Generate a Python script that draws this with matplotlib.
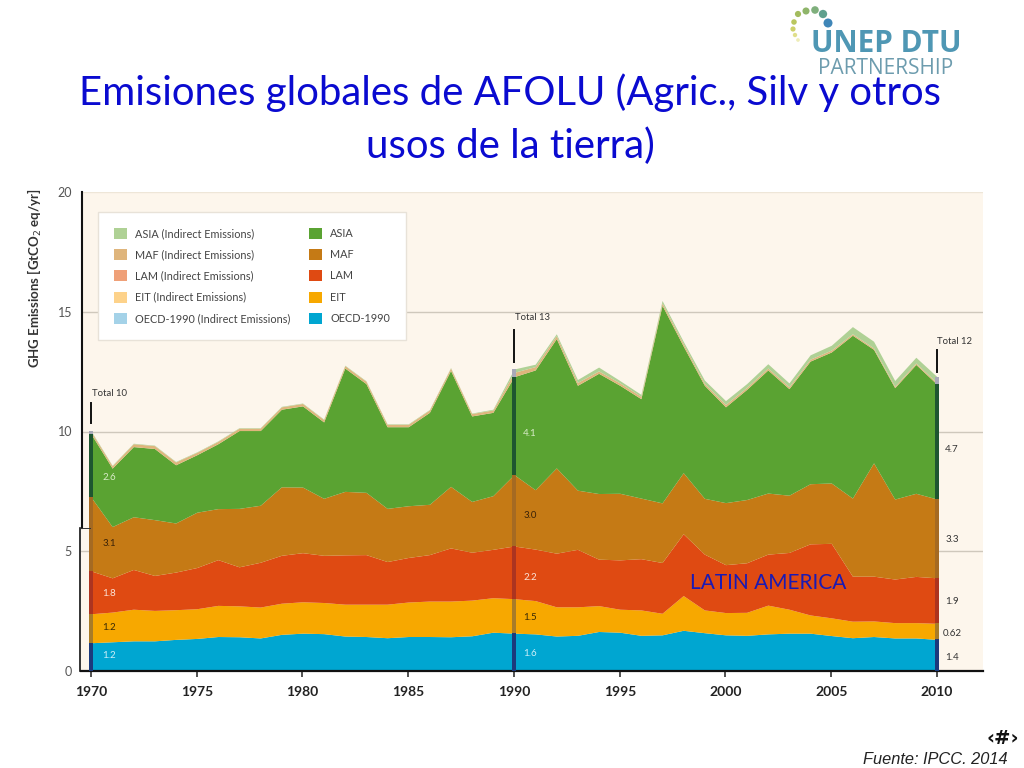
import numpy as np
import matplotlib
matplotlib.use("Agg")
import matplotlib.pyplot as plt
from matplotlib.patches import Patch

years = list(range(1970, 2011))
oecd_top = [1.18,1.22,1.26,1.26,1.32,1.36,1.44,1.43,1.38,1.53,1.58,1.56,1.46,1.44,1.39,1.44,1.44,1.43,1.47,1.62,1.58,
            1.55,1.46,1.49,1.65,1.62,1.49,1.51,1.70,1.60,1.51,1.49,1.55,1.58,1.58,1.48,1.39,1.44,1.38,1.38,1.32]
eit_top = [2.39,2.46,2.58,2.53,2.56,2.60,2.74,2.72,2.67,2.83,2.89,2.86,2.79,2.79,2.79,2.88,2.92,2.92,2.96,3.06,3.02,
           2.94,2.68,2.68,2.73,2.58,2.55,2.41,3.15,2.55,2.44,2.45,2.75,2.58,2.34,2.22,2.08,2.09,2.02,2.02,1.99]
lam_top = [4.18,3.89,4.24,3.99,4.13,4.32,4.65,4.35,4.54,4.83,4.94,4.83,4.85,4.86,4.57,4.74,4.86,5.14,4.96,5.08,5.22,
           5.09,4.92,5.08,4.67,4.64,4.69,4.53,5.73,4.88,4.44,4.52,4.88,4.95,5.31,5.33,3.96,3.96,3.84,3.95,3.89]
maf_top = [7.26,6.03,6.44,6.32,6.18,6.63,6.78,6.79,6.92,7.69,7.68,7.21,7.50,7.46,6.79,6.90,6.96,7.71,7.08,7.32,8.20,
           7.57,8.48,7.55,7.41,7.42,7.22,7.02,8.28,7.21,7.03,7.16,7.43,7.34,7.82,7.85,7.22,8.69,7.18,7.42,7.18]
asia_top = [9.90,8.47,9.37,9.29,8.61,9.03,9.49,10.04,10.04,10.93,11.07,10.40,12.65,12.00,10.20,10.20,10.80,12.55,10.65,10.80,12.29,
            12.57,13.88,11.93,12.43,11.93,11.37,15.27,13.57,11.93,11.03,11.76,12.57,11.79,12.94,13.32,14.02,13.43,11.83,12.80,11.97]
maf_indirect = [0.10,0.10,0.12,0.12,0.12,0.10,0.10,0.10,0.10,0.10,0.10,0.10,0.10,0.10,0.10,0.10,0.10,0.10,0.10,0.10,0.18,
                0.14,0.12,0.12,0.10,0.10,0.10,0.10,0.10,0.08,0.10,0.08,0.08,0.08,0.08,0.08,0.06,0.06,0.06,0.06,0.06]
asia_indirect = [0.03,0.02,0.02,0.02,0.02,0.02,0.02,0.02,0.02,0.02,0.02,0.02,0.02,0.02,0.02,0.02,0.02,0.02,0.02,0.03,0.14,
                 0.10,0.08,0.12,0.16,0.10,0.08,0.10,0.10,0.14,0.16,0.16,0.18,0.16,0.18,0.20,0.30,0.28,0.24,0.24,0.26]

series_names = ["OECD-1990", "EIT", "LAM", "MAF", "ASIA"]
direct_colors = ["#00A6D1", "#F7A800", "#DF4A12", "#C57A15", "#5AA332"]
indirect_colors = ["#A4D2E8", "#FDD28A", "#EFA078", "#DFB57C", "#AFD195"]
band_colors = ["#1C3A7C", "#A87C28", "#AC3420", "#A56A22", "#1E5630"]

mark_years = [1970, 1990, 2010]
totals = ["Total 10", "Total 13", "Total 12"]
total_line_px = [(403, 423), (330, 362), (350, 372)]
total_text_px = [(92, 394), (515, 317), (937, 342)]
value_labels = [
    [("2.6", 477, "#D8EBC8"), ("3.1", 544, "#3A2208"), ("1.8", 593, "#FBE4D8"), ("1.2", 627, "#3A2A05"), ("1.2", 656, "#CDEFF8")],
    [("4.1", 434, "#D8EBC8"), ("3.0", 516, "#3A2208"), ("2.2", 577, "#FBE4D8"), ("1.5", 618, "#3A2A05"), ("1.6", 654, "#CDEFF8")],
    [("4.7", 450, "#333333"), ("3.3", 540, "#333333"), ("1.9", 601, "#333333"), ("0.62", 633, "#333333"), ("1.4", 658, "#333333")],
]
value_label_x_px = [109, 530, 952]
y_ticks = [0, 5, 10, 15, 20]
x_ticks = [1970, 1975, 1980, 1985, 1990, 1995, 2000, 2005, 2010]

W, H = 1024, 768
fig = plt.figure(figsize=(W / 100, H / 100), dpi=100, facecolor="white")
L, R, T, B = 81, 983, 192, 671
ax = fig.add_axes([L / W, 1 - B / H, (R - L) / W, (B - T) / H], facecolor="#FDF6EC")
px = 21.15
ax.set_xlim(1970 + (L - 91) / px, 1970 + (R - 91) / px)
ax.set_ylim(0, 20)

for s in ["top", "right", "left"]:
    ax.spines[s].set_visible(False)
ax.spines["bottom"].set_linewidth(1.6)
ax.spines["bottom"].set_color("#111111")

for v in y_ticks[1:]:
    ax.axhline(v, color="#CFC8BC" if v < 20 else "#EEE6D8", lw=1.0, zorder=1)

x = np.array(years, dtype=float)
tops = [np.array(oecd_top), np.array(eit_top), np.array(lam_top), np.array(maf_top), np.array(asia_top)]
bottom = np.zeros(len(x))
for t, c in zip(tops, direct_colors):
    ax.fill_between(x, bottom, t, color=c, lw=0, zorder=2)
    bottom = t
maf_i_top = bottom + np.array(maf_indirect)
asia_i_top = maf_i_top + np.array(asia_indirect)
ax.fill_between(x, bottom, maf_i_top, color=indirect_colors[3], lw=0, zorder=2)
ax.fill_between(x, maf_i_top, asia_i_top, color=indirect_colors[4], lw=0, zorder=2)

bw = 4.5 / px
for my in mark_years:
    i = years.index(my)
    b = 0.0
    for t, c in zip(tops, band_colors):
        ax.bar(my, t[i] - b, bottom=b, width=bw, color=c, lw=0, zorder=3)
        b = t[i]
    ax.bar(my, asia_i_top[i] - b, bottom=b, width=bw, color="#A9A9B8", lw=0, zorder=3)

def yv(p):
    return (B - p) / (B - T) * 20

def xv(p):
    return 1970 + (p - 91) / px

for my, (p0, p1), (tx, ty), tot, labs, lx in zip(mark_years, total_line_px, total_text_px, totals, value_labels, value_label_x_px):
    ax.plot([my, my], [yv(p1), yv(p0)], color="#111111", lw=1.4, zorder=4)
    ax.text(xv(tx), yv(ty), tot, fontsize=6.8, color="#333333", ha="left",
            va="center", family="Lato", zorder=5)
    for txt, py, col in labs:
        ax.text(xv(lx), yv(py), txt, fontsize=7, color=col, ha="center", va="center", family="Lato", zorder=5)

ax.set_xticks(x_ticks)
ax.set_xticklabels([str(v) for v in x_ticks], fontsize=10, fontweight="bold", color="#222222", family="Lato")
ax.tick_params(axis="x", length=4, width=1.1, color="#222222", pad=7)
ax.set_yticks(y_ticks)
ax.set_yticklabels([str(v) for v in y_ticks], fontsize=9, color="#555555", family="Lato")
ax.tick_params(axis="y", length=0, pad=6.5)

# two-part left axis line, offset as in the source slide
ax.plot([xv(82.5), xv(82.5)], [yv(528), 20], color="#111111", lw=1.5, clip_on=False, zorder=6)
ax.plot([xv(80.5), xv(80.5)], [0, yv(528)], color="#111111", lw=1.2, clip_on=False, zorder=6)
ax.plot([xv(80.5), xv(90)], [yv(528), yv(528)], color="#333333", lw=0.7, clip_on=False, zorder=6)

handles = []
for name, ci in zip(series_names[::-1], indirect_colors[::-1]):
    handles.append(Patch(facecolor=ci, label=f"{name} (Indirect Emissions)"))
for name, cd in zip(series_names[::-1], direct_colors[::-1]):
    handles.append(Patch(facecolor=cd, label=name))
leg = ax.legend(handles=handles, ncol=2, loc="upper left",
                bbox_to_anchor=((98 - L) / (R - L), (B - 212) / (B - T)),
                prop={"family": "Lato", "size": 7.8}, labelcolor="#444444",
                frameon=True, facecolor="white", edgecolor="#E8E2D8", fancybox=False, framealpha=1,
                handlelength=1.2, handleheight=1.2, handletextpad=0.8, labelspacing=0.93,
                columnspacing=1.65, borderpad=1.45, borderaxespad=0)
leg.get_frame().set_linewidth(1.0)
leg.set_zorder(7)

fig.text(35 / W, 1 - 278 / H, "GHG Emissions [GtCO$_2$ eq/yr]", rotation=90, fontsize=9.5, fontweight="bold",
         family="Lato", color="#333333", ha="center", va="center")

blue = "#0A0AD0"
fig.text(510 / W, 1 - 105 / H, "Emisiones globales de AFOLU (Agric., Silv y otros", fontsize=28.9,
         family="Lato", color=blue, ha="center", va="baseline")
fig.text(510 / W, 1 - 158 / H, "usos de la tierra)", fontsize=28.9,
         family="Lato", color=blue, ha="center", va="baseline")
ax.text(xv(768), yv(583), "LATIN AMERICA", fontsize=15, family="Lato", color="#1A1AB4", ha="center", va="center", zorder=6)

fig.text(1003 / W, 1 - 738 / H, "‹#›", fontsize=14, fontweight="bold", family="DejaVu Sans", color="#111111", ha="center", va="center")
fig.text(1008 / W, 1 - 760 / H, "Fuente: IPCC. 2014", fontsize=11.8, style="italic", family="Liberation Sans",
         color="#222222", ha="right", va="center")

# logo
ov = fig.add_axes([0, 0, 1, 1], facecolor="none")
ov.set_xlim(0, W); ov.set_ylim(H, 0); ov.axis("off")
dots_x = [828, 823, 815, 806, 798, 794, 793, 795, 798]
dots_y = [23, 14, 10, 11, 14, 22, 29, 35, 40]
dots_c = ["#3F86B8", "#5FA08E", "#7FAF7C", "#8FB56A", "#A3BC5E", "#B9C65E", "#CDD06A", "#E0DF8C", "#EEEDB8"]
dots_s = [42, 36, 30, 26, 20, 16, 14, 10, 7]
ov.scatter(dots_x, dots_y, c=dots_c, s=dots_s, lw=0)
ov.text(886, 52, "UNEP DTU", fontsize=21.4, fontweight="bold", family="Open Sans", color="#4F97B4", ha="center", va="baseline")
ov.text(886, 74, "PARTNERSHIP", fontsize=15, family="Open Sans", color="#6D9CAE", ha="center", va="baseline")

fig.savefig("out.png", dpi=100, facecolor="white")
